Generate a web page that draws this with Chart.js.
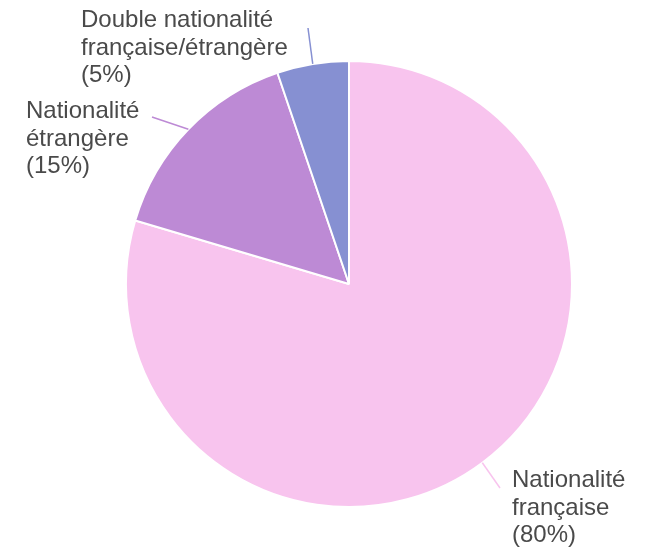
<!DOCTYPE html>
<html>
<head>
<meta charset="utf-8">
<script src="https://cdn.jsdelivr.net/npm/chart.js@4/dist/chart.umd.min.js"></script>
<style>
  html, body { margin: 0; padding: 0; background: #fff; }
  #c { display: block; }
</style>
</head>
<body>
<canvas id="c" width="656" height="556"></canvas>
<script>
// data, clockwise from 12 o'clock (shares, labels show them rounded)
const labels = ['Nationalité française', 'Nationalité étrangère', 'Double nationalité française/étrangère']
const values = [79.6, 15.2, 5.2]
const labelLines = [
  ['Nationalité', 'française', '(80%)'],
  ['Nationalité', 'étrangère', '(15%)'],
  ['Double nationalité', 'française/étrangère', '(5%)']
]
const colors = ['#f8c4ee', '#bd8ad5', '#8690d2']

// where each outside label sits (first baseline) and where its leader line ends
const labelPos = [
  { x: 512, y: 487, end: [500, 488] },
  { x: 26, y: 118, end: [152, 117] },
  { x: 81, y: 27, end: [308, 28] }
]

const outsideLabels = {
  id: 'outsideLabels',
  afterDatasetsDraw(chart) {
    const ctx = chart.ctx
    const arcs = chart.getDatasetMeta(0).data
    ctx.save()
    arcs.forEach(function(arc, i) {
      const mid = (arc.startAngle + arc.endAngle) / 2
      const r = arc.outerRadius
      const sx = arc.x + Math.cos(mid) * r
      const sy = arc.y + Math.sin(mid) * r
      const p = labelPos[i]
      ctx.strokeStyle = colors[i]
      ctx.lineWidth = 1.5
      ctx.beginPath()
      ctx.moveTo(sx, sy)
      ctx.lineTo(p.end[0], p.end[1])
      ctx.stroke()
      ctx.fillStyle = '#4a4a4a'
      ctx.font = '24px "Liberation Sans", Arial, sans-serif'
      ctx.textBaseline = 'alphabetic'
      ctx.textAlign = 'left'
      labelLines[i].forEach(function(t, k) {
        ctx.fillText(t, p.x, p.y + k * 27.5)
      })
    })
    ctx.restore()
  }
}

new Chart(document.getElementById('c'), {
  type: 'pie',
  data: {
    labels: labels,
    datasets: [{
      data: values,
      backgroundColor: colors,
      borderColor: '#ffffff',
      borderWidth: 2
    }]
  },
  options: {
    responsive: false,
    animation: false,
    layout: { padding: { top: 60, bottom: 48, left: 125, right: 83 } },
    plugins: {
      legend: { display: false },
      tooltip: { enabled: false }
    }
  },
  plugins: [outsideLabels]
})
</script>
</body>
</html>
